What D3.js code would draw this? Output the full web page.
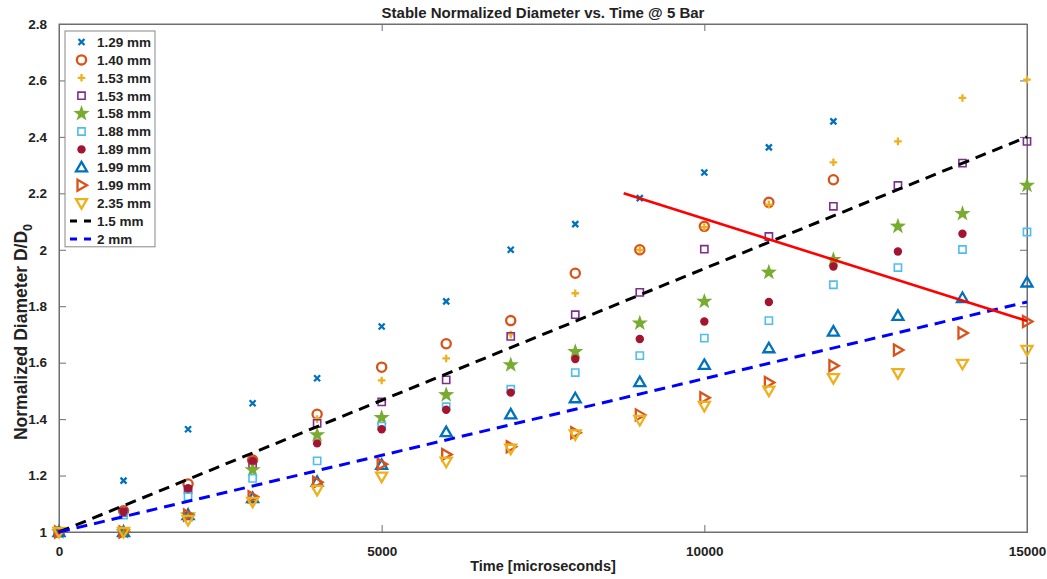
<!DOCTYPE html>
<html>
<head>
<meta charset="utf-8">
<script src="https://cdn.jsdelivr.net/npm/d3@7"></script>
<style>
  html, body { margin: 0; padding: 0; background: #fff; }
  text { font-family: "Liberation Sans", Arial, sans-serif; font-weight: bold; fill: #222; }
</style>
</head>
<body>
<svg id="chart" width="1047" height="579"></svg>
<script>
// ---------------- data ----------------
const times = [0, 1000, 2000, 3000, 4000, 5000, 6000, 7000, 8000, 9000, 10000, 11000, 12000, 13000, 14000, 15000];

const seriesNames = ["1.29 mm", "1.40 mm", "1.53 mm", "1.53 mm", "1.58 mm", "1.88 mm", "1.89 mm", "1.99 mm", "1.99 mm", "2.35 mm"];

const d129  = [1.0, 1.182, 1.364, 1.456, 1.545, 1.728, 1.817, 2.0, 2.091, 2.183, 2.274, 2.363, 2.455, null, null, null];
const d140  = [1.0, 1.075, 1.17, 1.255, 1.417, 1.584, 1.667, 1.749, 1.917, 2.0, 2.083, 2.168, 2.248, null, null, null];
const d153a = [1.0, 1.0, 1.055, 1.11, 1.40, 1.537, 1.615, 1.70, 1.846, 2.0, 2.08, 2.16, 2.31, 2.384, 2.538, 2.603];
const d153b = [1.0, 1.07, 1.15, 1.24, 1.385, 1.461, 1.539, 1.693, 1.770, 1.849, 2.002, 2.047, 2.154, 2.228, 2.307, 2.384];
const d158  = [1.0, 1.0, 1.06, 1.22, 1.344, 1.405, 1.486, 1.592, 1.639, 1.740, 1.817, 1.920, 1.965, 2.083, 2.128, 2.228];
const d188  = [1.0, 1.06, 1.125, 1.19, 1.252, 1.375, 1.444, 1.506, 1.565, 1.625, 1.687, 1.749, 1.876, 1.937, 2.001, 2.063];
const d189  = [1.0, 1.072, 1.155, 1.253, 1.314, 1.364, 1.433, 1.494, 1.613, 1.684, 1.746, 1.815, 1.941, 1.994, 2.057, null];
const d199a = [1.0, 1.0, 1.06, 1.12, 1.178, 1.238, 1.354, 1.417, 1.474, 1.531, 1.592, 1.651, 1.710, 1.766, 1.829, 1.884];
const d199b = [1.0, 1.0, 1.06, 1.125, 1.176, 1.24, 1.275, 1.302, 1.352, 1.415, 1.476, 1.530, 1.589, 1.645, 1.705, 1.746];
const d235  = [1.0, 1.0, 1.043, 1.107, 1.149, 1.196, 1.249, 1.295, 1.346, 1.397, 1.447, 1.501, 1.545, 1.563, 1.596, 1.645];

const fitX = [0, 15000];
const fit15 = [1.0, 2.40];
const fit2 = [1.0, 1.815];
const fitNames = ["1.5 mm", "2 mm"];

const redX = [8750, 15000];
const redY = [2.2, 1.748];

const xTicks = [0, 5000, 10000, 15000];
const xTickLabels = ["0", "5000", "10000", "15000"];
const yTicks = [1, 1.2, 1.4, 1.6, 1.8, 2, 2.2, 2.4, 2.6, 2.8];
const yTickLabels = ["1", "1.2", "1.4", "1.6", "1.8", "2", "2.2", "2.4", "2.6", "2.8"];

const titleText = "Stable Normalized Diameter vs. Time @ 5 Bar";
const xLabelText = "Time [microseconds]";

// ---------------- styles ----------------
const seriesData = [d129, d140, d153a, d153b, d158, d188, d189, d199a, d199b, d235];
const seriesMarker = ["x", "o", "+", "s", "star", "s", "dot", "tri", "tright", "tdown"];
const seriesColor = ["#0072BD", "#D95319", "#EDB120", "#7E2F8E", "#77AC30", "#4DBEEE", "#A2142F", "#0072BD", "#D95319", "#EDB120"];

const plot = { left: 59, right: 1027, top: 24, bottom: 532 };

const svg = d3.select("#chart");
const x = d3.scaleLinear().domain([0, 15000]).range([plot.left, plot.right]);
const y = d3.scaleLinear().domain([1, 2.8]).range([plot.bottom, plot.top]);

function markerPath(type) {
  switch (type) {
    case "x": { const s = 3; return `M${-s},${-s}L${s},${s}M${-s},${s}L${s},${-s}`; }
    case "+": { const s = 3.8; return `M${-s},0L${s},0M0,${-s}L0,${s}`; }
    case "o": return d3.arc()({ innerRadius: 0, outerRadius: 4.6, startAngle: 0, endAngle: 2 * Math.PI });
    case "s": { const s = 3.6; return `M${-s},${-s}H${s}V${s}H${-s}Z`; }
    case "dot": return d3.arc()({ innerRadius: 0, outerRadius: 4.2, startAngle: 0, endAngle: 2 * Math.PI });
    case "star": {
      const R = 8.5, r = 3.4; let p = "";
      for (let i = 0; i < 10; i++) {
        const a = -Math.PI / 2 + i * Math.PI / 5;
        const rr = i % 2 === 0 ? R : r;
        p += (i === 0 ? "M" : "L") + (rr * Math.cos(a)).toFixed(2) + "," + (rr * Math.sin(a)).toFixed(2);
      }
      return p + "Z";
    }
    case "tri": return "M0,-5.5L5.5,4L-5.5,4Z";
    case "tdown": return "M0,5.5L5.5,-4L-5.5,-4Z";
    case "tright": return "M5.5,0L-4,-5.5L-4,5.5Z";
  }
}
function markerStyle(sel, type, color) {
  const filled = (type === "star" || type === "dot");
  sel.attr("d", markerPath(type))
    .attr("fill", filled ? color : "none")
    .attr("stroke", filled ? "none" : color)
    .attr("stroke-width", type === "s" ? 1.6 : 2.3)
    .attr("stroke-linejoin", "miter");
}

// ---------------- axes box & ticks ----------------
const axisColor = "#6e6e6e";
const tickLen = 7;

svg.append("rect")
  .attr("x", plot.left).attr("y", plot.top)
  .attr("width", plot.right - plot.left).attr("height", plot.bottom - plot.top)
  .attr("fill", "#fff").attr("stroke", axisColor).attr("stroke-width", 1);

const xAxisB = d3.axisBottom(x).tickValues(xTicks).tickSize(-tickLen).tickPadding(tickLen + 7)
  .tickFormat((d, i) => xTickLabels[i]);
const gxb = svg.append("g").attr("transform", `translate(0,${plot.bottom})`).call(xAxisB);
const xAxisT = d3.axisTop(x).tickValues(xTicks).tickSize(-tickLen).tickFormat("");
const gxt = svg.append("g").attr("transform", `translate(0,${plot.top})`).call(xAxisT);
const yAxisL = d3.axisLeft(y).tickValues(yTicks).tickSize(-tickLen).tickPadding(tickLen + 5)
  .tickFormat((d, i) => yTickLabels[i]);
const gyl = svg.append("g").attr("transform", `translate(${plot.left},0)`).call(yAxisL);
const yAxisR = d3.axisRight(y).tickValues(yTicks).tickSize(-tickLen).tickFormat("");
const gyr = svg.append("g").attr("transform", `translate(${plot.right},0)`).call(yAxisR);

[gxb, gxt, gyl, gyr].forEach(g => {
  g.select(".domain").attr("stroke", axisColor);
  g.selectAll(".tick line").attr("stroke", axisColor);
  g.selectAll(".tick text").attr("font-size", 13.5).attr("font-family", "Liberation Sans, Arial, sans-serif")
    .attr("font-weight", "bold").attr("fill", "#222");
});

// ---------------- scatter series ----------------
const gMarks = svg.append("g");
seriesData.forEach((arr, si) => {
  const pts = times.map((t, i) => ({ t, v: arr[i] })).filter(d => d.v !== null);
  gMarks.append("g").selectAll("path").data(pts).join("path")
    .attr("transform", d => `translate(${x(d.t)},${y(d.v)})`)
    .call(sel => markerStyle(sel, seriesMarker[si], seriesColor[si]));
});

// ---------------- fit lines ----------------
const line = d3.line().x(d => x(d[0])).y(d => y(d[1]));
svg.append("path").datum(fitX.map((t, i) => [t, fit15[i]])).attr("d", line)
  .attr("fill", "none").attr("stroke", "#000").attr("stroke-width", 3).attr("stroke-dasharray", "11,7");
svg.append("path").datum(fitX.map((t, i) => [t, fit2[i]])).attr("d", line)
  .attr("fill", "none").attr("stroke", "#0000FF").attr("stroke-width", 3).attr("stroke-dasharray", "11,7");
svg.append("path").datum(redX.map((t, i) => [t, redY[i]])).attr("d", line)
  .attr("fill", "none").attr("stroke", "#FF0000").attr("stroke-width", 2.6);

// ---------------- legend ----------------
const lg = svg.append("g");
const lgX = 65, lgY = 31, lgW = 90, rowH = 17.9, firstRow = 42;
const nRows = seriesNames.length + fitNames.length;
lg.append("rect").attr("x", lgX).attr("y", lgY).attr("width", lgW).attr("height", rowH * nRows + 1)
  .attr("fill", "#fff").attr("stroke", "#888").attr("stroke-width", 1);
seriesNames.forEach((name, i) => {
  const cy = firstRow + i * rowH;
  lg.append("path").attr("transform", `translate(81.5,${cy})`)
    .call(sel => markerStyle(sel, seriesMarker[i], seriesColor[i]));
  lg.append("text").attr("x", 97).attr("y", cy).attr("dy", "0.36em").attr("font-size", 13.5).text(name);
});
const fitColors = ["#000", "#0000FF"];
fitNames.forEach((name, j) => {
  const cy = firstRow + (seriesNames.length + j) * rowH;
  lg.append("line").attr("x1", 70).attr("x2", 94).attr("y1", cy).attr("y2", cy)
    .attr("stroke", fitColors[j]).attr("stroke-width", 3).attr("stroke-dasharray", "7,7");
  lg.append("text").attr("x", 97).attr("y", cy).attr("dy", "0.36em").attr("font-size", 13.5).text(name);
});

// ---------------- titles ----------------
svg.append("text").attr("x", (plot.left + plot.right) / 2).attr("y", 18)
  .attr("text-anchor", "middle").attr("font-size", 15).text(titleText);
svg.append("text").attr("x", (plot.left + plot.right) / 2).attr("y", 571)
  .attr("text-anchor", "middle").attr("font-size", 14.5).text(xLabelText);
const yl = svg.append("text").attr("transform", "translate(27,332) rotate(-90)")
  .attr("text-anchor", "middle").attr("font-size", 17.5);
yl.append("tspan").text("Normalized Diameter D/D");
yl.append("tspan").attr("font-size", 12.5).attr("dy", 5).text("0");
</script>
</body>
</html>
